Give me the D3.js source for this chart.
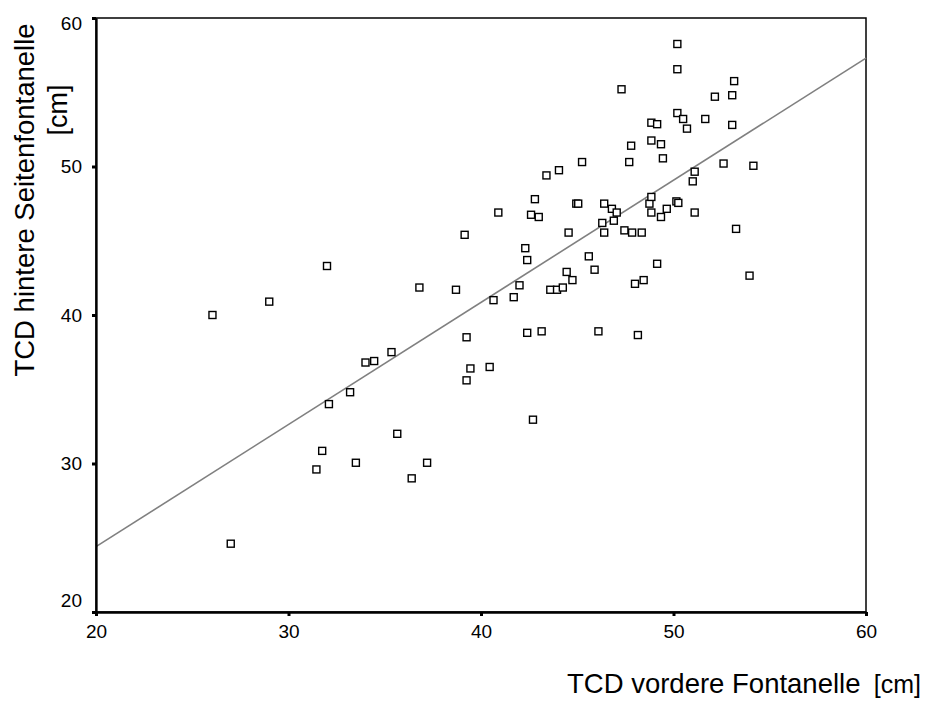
<html>
<meta charset="utf-8">
<head>
<title>TCD Fontanelle</title>
<script src="https://d3js.org/d3.v7.min.js"></script>
<style>
  body { margin: 0; background: #fff; }
  text { font-family: Arial, "Liberation Sans", sans-serif; fill: #000; }
</style>
</head>
<body>
<div id="mychart"></div>
<script>
// TCD vordere Fontanelle [cm]
var vordere = [26.05, 27.0, 29.0, 32.0, 31.45, 31.75, 32.1, 33.2, 34.0, 34.45,
               35.35, 35.65, 33.5, 36.4, 37.2, 36.8, 38.7, 39.15, 39.25, 39.45,
               40.45, 39.25, 40.65, 40.9, 41.7, 42.0, 42.3, 42.4, 42.6, 43.0,
               42.8, 42.4, 43.15, 42.7, 43.4, 44.05, 43.6, 43.95, 44.25, 44.45,
               44.75, 44.55, 44.95, 45.05, 45.25, 45.6, 45.9, 46.1, 46.4, 46.8,
               47.05, 46.3, 46.9, 46.4, 47.3, 47.45, 47.7, 47.8, 47.85, 48.0,
               48.45, 48.15, 48.35, 48.75, 48.85, 48.85, 48.85, 48.85, 49.15, 49.15,
               49.35, 49.35, 49.45, 49.65, 50.2, 50.2, 50.2, 50.15, 50.25, 50.5,
               50.7, 51.0, 51.1, 51.1, 51.65, 52.15, 52.6, 53.05, 53.15, 53.05,
               53.25, 53.95, 54.15];
// TCD hintere Seitenfontanelle [cm]
var hintere = [40.0, 24.6, 40.9, 43.3, 29.6, 30.85, 34.0, 34.8, 36.8, 36.9,
               37.5, 32.0, 30.05, 29.0, 30.05, 41.85, 41.7, 45.4, 38.5, 36.4,
               36.5, 35.6, 41.0, 46.9, 41.2, 42.0, 44.5, 43.7, 46.75, 46.6,
               47.8, 38.8, 38.9, 32.95, 49.4, 49.75, 41.7, 41.7, 41.85, 42.9,
               42.35, 45.55, 47.5, 47.5, 50.3, 43.95, 43.05, 38.9, 47.5, 47.15,
               46.9, 46.2, 46.35, 45.55, 55.2, 45.7, 50.3, 51.4, 45.55, 42.1,
               42.35, 38.65, 45.55, 47.5, 47.95, 46.9, 51.75, 52.95, 52.85, 43.45,
               51.5, 46.6, 50.55, 47.15, 58.25, 56.55, 53.6, 47.65, 47.55, 53.2,
               52.55, 49.0, 49.65, 46.9, 53.2, 54.7, 50.2, 54.8, 55.75, 52.8,
               45.8, 42.65, 50.05];
// fit line end points
var fitX = [20, 60];
var fitY = [24.4, 57.3];
var xTicks = [20, 30, 40, 50, 60];
var yTicks = [20, 30, 40, 50, 60];

var width = 933, height = 717;
var margin = {left: 96, top: 18, right: 67, bottom: 105};
var w = width - margin.left - margin.right;
var h = height - margin.top - margin.bottom;

var svg = d3.select("#mychart")
  .append("svg")
    .attr("width", width)
    .attr("height", height);

var g = svg.append("g")
    .attr("transform", "translate(" + margin.left + "," + margin.top + ")");

var x = d3.scaleLinear().domain([20, 60]).range([0, w]);
var y = d3.scaleLinear().domain([20, 60]).range([h, 0]);

// frame (top + right)
g.append("rect")
  .attr("x", 0).attr("y", 0)
  .attr("width", w).attr("height", h)
  .attr("fill", "none")
  .attr("stroke", "#000")
  .attr("stroke-width", 1.5);

// regression line
var pts = fitX.map(function(d, i) { return [d, fitY[i]]; });
g.append("path")
  .datum(pts)
  .attr("d", d3.line().x(function(d) { return x(d[0]); }).y(function(d) { return y(d[1]); }))
  .attr("fill", "none")
  .attr("stroke", "#808080")
  .attr("stroke-width", 1.6);

// points
var data = vordere.map(function(d, i) { return {v: d, h: hintere[i]}; });
g.selectAll(".pt")
  .data(data)
  .enter()
  .append("rect")
    .attr("class", "pt")
    .attr("x", function(d) { return x(d.v) - 3.5; })
    .attr("y", function(d) { return y(d.h) - 3.5; })
    .attr("width", 7)
    .attr("height", 7)
    .attr("fill", "#fff")
    .attr("stroke", "#000")
    .attr("stroke-width", 1.4);

// axes
var xAxis = g.append("g")
  .attr("transform", "translate(0," + h + ")")
  .call(d3.axisBottom(x).tickValues(xTicks).tickSize(4).tickSizeOuter(0).tickPadding(9));

var yAxis = g.append("g")
  .call(d3.axisLeft(y).tickValues(yTicks).tickSize(4).tickSizeOuter(0).tickPadding(10));

[xAxis, yAxis].forEach(function(a) {
  a.select(".domain").attr("stroke", "#000").attr("stroke-width", 2.3);
  a.selectAll(".tick line").attr("stroke", "#000").attr("stroke-width", 3);
  a.selectAll(".tick text")
    .style("font-family", "Arial, 'Liberation Sans', sans-serif")
    .style("font-size", "19px")
    .attr("fill", "#000");
  a.attr("font-family", null).attr("font-size", null);
});

// nudge end labels on y axis like the original
yAxis.selectAll(".tick text")
  .attr("dy", function(d) {
    if (d == 60) return "0.58em";
    if (d == 20) return "-0.3em";
    return "0.32em";
  });

// axis titles
svg.append("text")
  .attr("x", 567)
  .attr("y", 693)
  .style("font-size", "27.5px")
  .text("TCD vordere Fontanelle");

svg.append("text")
  .attr("x", 921)
  .attr("y", 693)
  .attr("text-anchor", "end")
  .style("font-size", "25px")
  .text("[cm]");

svg.append("text")
  .attr("transform", "translate(34,200) rotate(-90)")
  .attr("text-anchor", "middle")
  .style("font-size", "27.5px")
  .text("TCD hintere Seitenfontanelle");

svg.append("text")
  .attr("transform", "translate(67,110) rotate(-90)")
  .attr("text-anchor", "middle")
  .style("font-size", "27px")
  .text("[cm]");
</script>
</body>
</html>
